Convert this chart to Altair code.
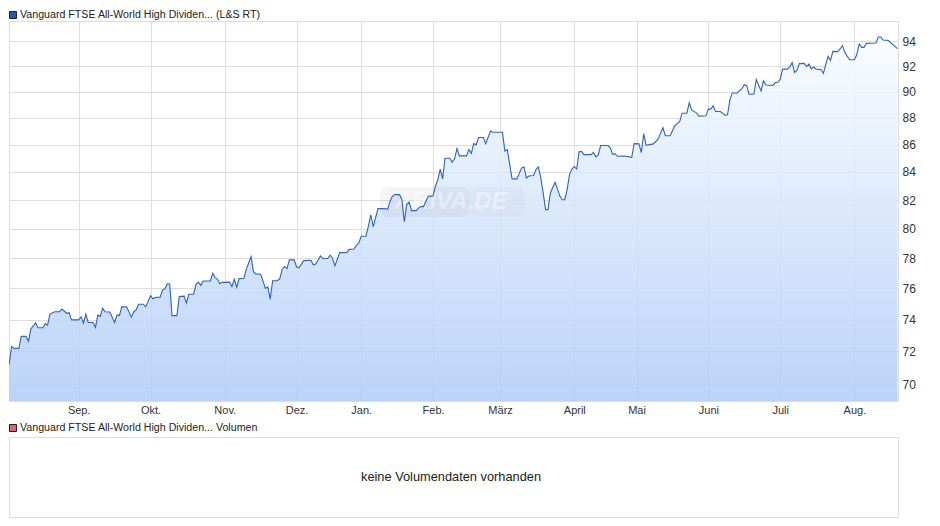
import altair as alt
import pandas as pd

# x is a running day number, weekends included, holidays left out
days = [
    0, 3, 4, 5, 7, 8, 10, 11, 12, 14, 15, 17, 18, 19, 20, 22, 24, 25, 27, 28, 29,
    32, 33, 34, 35, 36, 38, 39, 40, 41, 42, 43, 45, 47, 48, 49, 50, 52, 54, 55, 56, 57, 59, 60,
    62, 63, 64, 66, 67, 68, 69, 70, 71, 73, 74, 76, 77, 78, 80, 81, 82, 83, 84, 87, 88, 89, 90, 91, 92,
    95, 96, 97, 98, 99, 101, 102, 104, 105, 106, 108, 110, 111, 112, 113, 115, 116, 117, 118, 119, 120, 122,
    123, 124, 126, 129, 130, 131, 133, 134, 136, 137, 138, 139, 141, 144, 145, 147, 148, 149,
    150, 152, 153, 154, 155, 157, 160, 161, 162, 163, 164, 166, 167, 168, 169, 170, 171, 173, 174, 175, 176, 178,
    180, 181, 182, 183, 184, 185, 187, 188, 189, 190, 191, 194, 195, 196, 197, 198, 199, 201, 202, 204, 205,
    209, 210, 211, 213, 215, 216, 217, 218, 219, 220, 222, 223, 224, 225, 226, 227, 228, 229, 231, 233, 234, 235, 236, 237, 238,
    239, 240, 241, 242, 243, 246, 247, 248, 249, 250, 253, 254, 255, 256, 257, 260, 263, 264,
    266, 267, 268, 269, 272, 274, 276, 277, 279, 281, 283, 284, 286, 287, 288, 290, 291, 294,
    295, 296, 297, 298, 300, 302, 303, 304, 305, 307, 309, 310, 311, 312, 314, 315, 316, 317, 318, 319, 322, 323, 324,
    325, 326, 328, 329, 330, 331, 332, 333, 335, 336, 337, 338, 339, 340, 342, 343, 345, 346, 347, 349, 350, 351, 352, 353, 354,
    356, 357, 358, 359, 360, 361, 365, 366, 367, 368, 370, 374,
]
prices = [
    71.25, 71.25, 72.31, 72.19, 72.19, 72.94, 72.94, 72.63, 73.40, 73.79, 73.48, 73.48, 73.73, 73.65, 74.35, 74.50, 74.50, 74.67, 74.40, 74.44, 73.98,
    73.98, 74.17, 73.77, 74.35, 73.81, 73.81, 73.50, 74.29, 74.19, 74.73, 74.50, 74.48, 73.81, 74.29, 74.25, 74.81, 74.81, 74.15, 74.50, 74.62, 74.98, 74.98, 74.81,
    75.52, 75.33, 75.42, 75.44, 75.90, 75.98, 76.31, 76.29, 74.25, 74.25, 75.48, 75.50, 75.06, 75.63, 75.63, 76.27, 76.42, 76.20, 76.49, 76.49, 77.00, 76.71, 76.60, 76.31, 76.40,
    76.42, 76.13, 76.60, 76.07, 76.65, 76.67, 77.27, 78.11, 77.11, 76.96, 76.94, 76.00, 76.11, 75.31, 76.51, 76.51, 76.65, 77.27, 77.45, 77.31, 77.89, 77.89,
    77.42, 77.38, 77.84, 77.87, 77.56, 77.62, 78.15, 77.98, 77.98, 78.20, 78.00, 77.49, 78.38, 78.39, 78.60, 78.62, 78.87, 79.03,
    79.49, 79.49, 80.18, 80.97, 80.14, 81.40, 81.40, 81.33, 81.89, 82.26, 82.38, 82.38, 82.02, 80.48, 81.68, 81.86, 81.26, 81.26, 81.45, 81.54, 81.54, 82.26,
    82.29, 82.98, 83.45, 84.21, 83.50, 85.00, 85.00, 84.71, 84.95, 85.71, 85.17, 85.17, 85.64, 85.36, 86.07, 85.98, 86.52, 86.52, 86.07, 87.01, 86.91,
    86.91, 85.52, 85.64, 83.50, 83.50, 83.88, 84.29, 84.36, 83.57, 83.71, 83.74, 84.17, 84.36, 83.57, 82.50, 81.33, 81.33, 82.50, 83.26, 82.26, 82.02, 82.02, 82.74, 83.81, 84.21,
    84.40, 84.21, 85.48, 85.50, 85.26, 85.26, 85.43, 85.10, 85.24, 85.93, 85.93, 85.78, 85.28, 85.33, 85.14, 85.16, 85.06, 86.07,
    86.05, 85.41, 86.80, 85.95, 86.05, 86.40, 87.26, 86.66, 86.66, 87.41, 87.70, 88.35, 88.35, 89.14, 88.60, 88.38, 88.13, 88.15,
    88.68, 88.66, 88.91, 88.48, 88.48, 88.20, 88.23, 89.37, 89.90, 89.90, 90.24, 90.54, 90.46, 89.80, 89.80, 90.95, 90.49, 90.05, 90.84, 90.51, 90.49, 90.70, 90.73,
    90.95, 91.76, 91.76, 91.92, 92.27, 91.49, 91.65, 92.19, 92.21, 91.95, 92.16, 91.78, 91.92, 91.76, 91.73, 91.43, 92.77, 92.45, 93.17, 93.15, 93.36, 93.63, 93.09, 92.77, 92.50,
    92.50, 92.91, 93.76, 93.49, 93.49, 93.81, 93.84, 94.32, 94.32, 94.08, 94.05, 93.39,
]

month_days = [32, 62, 93, 123, 150, 180, 208, 239, 265, 295, 325, 356]
month_names = ['Sep.', 'Okt.', 'Nov.', 'Dez.', 'Jan.', 'Feb.', 'März', 'April', 'Mai', 'Juni', 'Juli', 'Aug.']
price_ticks = [70, 72, 74, 76, 78, 80, 82, 84, 86, 88, 90, 92, 94]

price_label = 'Vanguard FTSE All-World High Dividen... (L&S RT)'
volume_label = 'Vanguard FTSE All-World High Dividen... Volumen'
volume_note = 'keine Volumendaten vorhanden'
watermark = 'ARIVA.DE'

FONT = 'Liberation Sans'
PRICE_FLOOR = 69.0
PRICE_TOP = 95.63

df = pd.DataFrame({'day': days, 'price': prices})
df['floor'] = PRICE_FLOOR

x_axis = alt.Axis(
    values=month_days,
    labelExpr=f"{month_names}[indexof({month_days}, datum.value)]",
    title=None, domain=False, ticks=False, labelPadding=3, labelOverlap=False, labelFlush=False,
    gridColor='#dddddd', labelColor='#333333', labelFont=FONT, labelFontSize=11,
)
y_axis = alt.Axis(
    values=price_ticks, orient='right', format='d',
    title=None, domain=False, ticks=False, labelPadding=4, labelOverlap=False, labelFlush=False,
    gridColor='#dddddd', labelColor='#333333', labelFont=FONT, labelFontSize=12,
)
x_enc = alt.X('day:Q', scale=alt.Scale(domain=[2.89, 374.2], nice=False, zero=False), axis=x_axis)
y_enc = alt.Y('price:Q', scale=alt.Scale(type='log', domain=[PRICE_FLOOR, PRICE_TOP], nice=False), axis=y_axis)

fill = alt.Gradient(
    gradient='linear', x1=1, x2=1, y1=0, y2=1,
    stops=[
        alt.GradientStop(color='rgba(250,252,255,0.85)', offset=0),
        alt.GradientStop(color='rgba(175,204,247,0.85)', offset=1),
    ],
)
area = alt.Chart(df).mark_area(color=fill, clip=True).encode(x=x_enc, y=y_enc, y2='floor:Q')
line = alt.Chart(df).mark_line(color='#2b64c2', strokeWidth=1.1, clip=True).encode(x=x_enc, y=y_enc)


def legend_row(label, color, mid):
    row = pd.DataFrame({'label': [label]})
    box = alt.Chart(row).mark_rect(color=color, stroke='#222222', strokeWidth=1).encode(
        x=alt.value(0.5), x2=alt.value(7.5), y=alt.value(mid - 3.5), y2=alt.value(mid + 3.5))
    text = alt.Chart(row).mark_text(align='left', baseline='middle', font=FONT, fontSize=10.65, color='#222222').encode(
        x=alt.value(11), y=alt.value(mid), text='label:N')
    return box + text


mark_row = pd.DataFrame({'label': [watermark]})
stamp_left = alt.Chart(mark_row).mark_rect(color='#000000', opacity=0.04, cornerRadius=8).encode(
    x=alt.value(371), x2=alt.value(461), y=alt.value(166), y2=alt.value(196))
stamp_right = alt.Chart(mark_row).mark_rect(color='#000000', opacity=0.018, cornerRadius=8).encode(
    x=alt.value(461), x2=alt.value(516), y=alt.value(166), y2=alt.value(196))
stamp_text = alt.Chart(mark_row).mark_text(
    font=FONT, fontSize=24, fontStyle='italic', fontWeight='bold', color='#ffffff', opacity=0.4
).encode(x=alt.value(442), y=alt.value(181), text='label:N')

price_chart = alt.layer(
    area, stamp_left, stamp_right, stamp_text, line, legend_row(price_label, '#1f5cc0', -6)
).properties(width=889, height=380)

note_row = pd.DataFrame({'label': [volume_note]})
note = alt.Chart(note_row).mark_text(font=FONT, fontSize=12.8, color='#222222').encode(
    x=alt.value(442), y=alt.value(40), text='label:N')
volume_chart = alt.layer(note, legend_row(volume_label, '#d96a6a', -9)).properties(width=889, height=80)

chart = alt.vconcat(price_chart, volume_chart, spacing=5).properties(
    padding=0, background='white'
).configure_view(stroke='#dddddd', strokeWidth=1)

chart.save("out.html", embed_options={"renderer": "svg", "actions": False})
